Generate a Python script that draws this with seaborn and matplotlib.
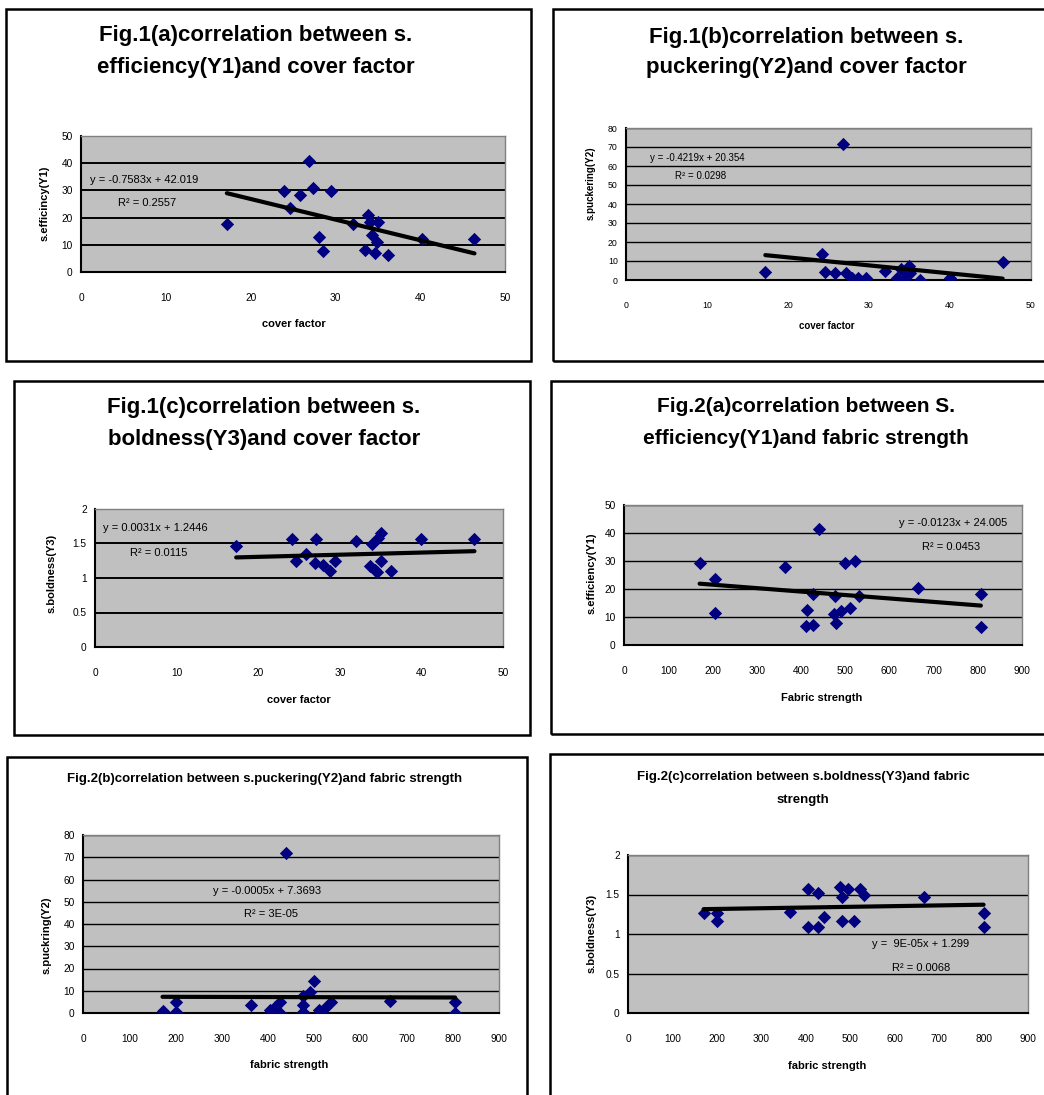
import matplotlib
matplotlib.use('Agg')
import matplotlib.pyplot as plt
import seaborn as sns
from matplotlib.patches import Rectangle
from matplotlib.ticker import FuncFormatter, MultipleLocator

W, H = 1044, 1095

# Fig.1 - cover factor vs Y1 / Y2 / Y3
cover_1a = [17.2, 23.9, 24.6, 25.8, 26.9, 27.4, 28.1, 28.5, 29.5, 32.1,
            33.5, 33.8, 34.1, 34.3, 34.7, 34.9, 35.0, 36.2, 40.2, 46.4]
effic_1a = [17.8, 29.9, 23.7, 28.3, 40.7, 30.7, 12.7, 7.7, 29.9, 17.6,
            8.0, 20.9, 18.4, 13.5, 7.0, 11.1, 18.4, 6.1, 12.3, 12.3]

cover_1b = [17.2, 24.2, 24.6, 25.8, 26.8, 27.1, 27.9, 28.6, 29.6, 32.0,
            33.4, 34.0, 34.3, 34.6, 34.9, 35.1, 36.3, 40.0, 46.5]
pucker_1b = [4.0, 13.7, 4.0, 3.5, 71.7, 3.5, 0.9, 0.9, 0.9, 4.9,
             0.9, 5.6, 0.0, 3.5, 7.4, 3.5, 0.0, 0.9, 9.7]

cover_1c = [17.3, 24.1, 24.6, 25.8, 27.1, 26.9, 27.9, 28.8, 29.4, 32.0,
            33.7, 34.0, 34.3, 34.5, 34.7, 35.0, 35.1, 36.3, 40.0, 46.5]
bold_1c = [1.46, 1.56, 1.25, 1.35, 1.56, 1.22, 1.19, 1.10, 1.25, 1.53,
           1.17, 1.49, 1.12, 1.09, 1.58, 1.65, 1.25, 1.10, 1.56, 1.56]

# Fig.2 - fabric strength vs Y1 / Y2 / Y3
fabric_2a = [171, 206, 206, 365, 414, 412, 427, 427, 440, 474,
             478, 480, 491, 500, 512, 523, 532, 664, 807, 807]
effic_2a = [29.4, 23.5, 11.5, 27.7, 12.5, 6.8, 18.1, 7.0, 41.3, 11.1,
            17.5, 8.0, 12.3, 29.4, 13.1, 30.0, 17.5, 20.5, 18.2, 6.5]

fabric_2b = [172, 202, 202, 363, 405, 411, 416, 427, 427, 440, 476,
             477, 477, 491, 499, 511, 524, 536, 664, 805, 805]
pucker_2b = [1.0, 4.8, 0.4, 3.7, 1.2, 0.3, 2.5, 4.8, 0.0, 71.8, 7.8,
             3.7, 0.4, 9.3, 14.5, 1.5, 2.2, 4.8, 5.2, 4.8, 0.0]

fabric_2c = [170, 200, 200, 364, 406, 406, 427, 427, 440, 476,
             481, 481, 496, 508, 521, 532, 665, 800, 800]
bold_2c = [1.26, 1.27, 1.16, 1.28, 1.57, 1.09, 1.52, 1.09, 1.21, 1.60,
           1.47, 1.16, 1.57, 1.16, 1.57, 1.49, 1.47, 1.27, 1.09]

# trendline coefficients as printed on the charts (slope, intercept)
fit_1a = (-0.7583, 42.019)
fit_1b = (-0.4219, 20.354)
fit_1c = (0.0031, 1.2446)
fit_2a = (-0.0123, 24.005)
fit_2b = (-0.0005, 7.3693)
fit_2c = (9e-05, 1.299)

sns.set_style('white')
plt.rcParams['font.family'] = ['Liberation Sans', 'DejaVu Sans']
plt.rcParams['text.color'] = 'black'
plt.rcParams['xtick.color'] = 'black'
plt.rcParams['ytick.color'] = 'black'
plt.rcParams['axes.labelcolor'] = 'black'

fig = plt.figure(figsize=(W / 100, H / 100), dpi=100)

NAVY = '#000080'
PLOT_BG = '#C0C0C0'


def fx(px):
    return px / W


def fy(py):
    return 1 - py / H


def frame(l, t, r, b):
    fig.patches.append(Rectangle((fx(l), fy(b)), fx(r - l), (b - t) / H,
                                 transform=fig.transFigure, fill=False,
                                 lw=1.8, edgecolor='black'))


def panel(area, x, y, fit, xmax, xstep, ymax, ystep, tick_fs=7.3, grid_lw=1.0):
    l, t, r, b = area
    ax = fig.add_axes([fx(l), fy(b), fx(r - l), (b - t) / H])
    ax.set_facecolor(PLOT_BG)
    sns.scatterplot(x=x, y=y, ax=ax, marker='D', color=NAVY, s=46,
                    linewidth=0, zorder=3)
    xs = [min(x), max(x)]
    ys = [fit[0] * v + fit[1] for v in xs]
    sns.lineplot(x=xs, y=ys, ax=ax, color='black', lw=3.0, zorder=4)
    ax.set_xlim(0, xmax)
    ax.set_ylim(0, ymax)
    ax.xaxis.set_major_locator(MultipleLocator(xstep))
    ax.yaxis.set_major_locator(MultipleLocator(ystep))
    ax.yaxis.set_major_formatter(FuncFormatter(lambda v, p: '{:g}'.format(v)))
    ax.yaxis.grid(True, color='black', lw=grid_lw)
    ax.xaxis.grid(False)
    ax.set_axisbelow(True)
    for side in ['top', 'right']:
        ax.spines[side].set_color('#808080')
        ax.spines[side].set_linewidth(1.0)
    for side in ['left', 'bottom']:
        ax.spines[side].set_color('black')
        ax.spines[side].set_linewidth(1.5)
    ax.tick_params(axis='x', direction='out', length=3, width=1, pad=12,
                   labelsize=tick_fs, color='black', labelcolor='black')
    ax.tick_params(axis='y', direction='out', length=3, width=1, pad=3,
                   labelsize=tick_fs, color='black', labelcolor='black')
    ax.set_xlabel('')
    ax.set_ylabel('')
    return ax


def label_text(x, y, s, rot=0, size=8):
    fig.text(fx(x), fy(y), s, ha='center', va='center', rotation=rot,
             fontsize=size, fontweight='bold', color='black')


def note(x, y, s, size=8, ha='left'):
    fig.text(fx(x), fy(y), s, ha=ha, va='center', fontsize=size, color='black')


def title(x, ys, lines, size):
    for yy, s in zip(ys, lines):
        fig.text(fx(x), fy(yy), s, ha='center', va='center',
                 fontsize=size, fontweight='bold', color='black')


# outer chart boxes
frame(6, 9, 531, 361)
frame(553, 9, 1052, 361)
frame(14, 381, 530, 735)
frame(551, 381, 1052, 734)
frame(7, 757, 527, 1102)
frame(550, 754, 1052, 1102)

# Fig.1(a)
panel((81, 136, 505, 272), cover_1a, effic_1a, fit_1a, 50, 10, 50, 10, grid_lw=1.4)
title(256, [35, 67], ['Fig.1(a)correlation between s.',
                      'efficiency(Y1)and cover factor'], 16)
label_text(294, 324, 'cover factor')
label_text(45, 203, 's.efficincy(Y1)', rot=90)
note(90, 180, 'y = -0.7583x + 42.019')
note(118, 203, 'R² = 0.2557')

# Fig.1(b)
panel((626, 128, 1031, 280), cover_1b, pucker_1b, fit_1b, 50, 10, 80, 10, tick_fs=6.3)
title(806, [38, 68], ['Fig.1(b)correlation between s.',
                      'puckering(Y2)and cover factor'], 16)
label_text(827, 326, 'cover factor', size=7)
label_text(591, 183, 's.puckering(Y2)', rot=90, size=7)
note(650, 158, 'y = -0.4219x + 20.354', size=7)
note(675, 176, 'R² = 0.0298', size=7)

# Fig.1(c)
panel((95, 509, 503, 647), cover_1c, bold_1c, fit_1c, 50, 10, 2, 0.5, grid_lw=1.4)
title(264, [408, 440], ['Fig.1(c)correlation between s.',
                        'boldness(Y3)and cover factor'], 16)
label_text(299, 700, 'cover factor')
label_text(52, 573, 's.boldness(Y3)', rot=90)
note(103, 528, 'y = 0.0031x + 1.2446')
note(130, 553, 'R² = 0.0115')

# Fig.2(a)
panel((624, 505, 1022, 645), fabric_2a, effic_2a, fit_2a, 900, 100, 50, 10)
title(806, [407, 438], ['Fig.2(a)correlation between S.',
                        'efficiency(Y1)and fabric strength'], 15)
label_text(822, 698, 'Fabric strength')
label_text(592, 573, 's.efficiency(Y1)', rot=90)
note(1007, 523, 'y = -0.0123x + 24.005', ha='right')
note(922, 547, 'R² = 0.0453')

# Fig.2(b)
panel((83, 835, 499, 1013), fabric_2b, pucker_2b, fit_2b, 900, 100, 80, 10)
title(265, [779], ['Fig.2(b)correlation between s.puckering(Y2)and fabric strength'], 9.5)
label_text(289, 1065, 'fabric strength')
label_text(47, 935, 's.puckring(Y2)', rot=90)
note(213, 891, 'y = -0.0005x + 7.3693')
note(244, 914, 'R² = 3E-05')

# Fig.2(c)
panel((628, 855, 1028, 1013), fabric_2c, bold_2c, fit_2c, 900, 100, 2, 0.5)
title(803, [777, 800], ['Fig.2(c)correlation between s.boldness(Y3)and fabric',
                        'strength'], 9.5)
label_text(827, 1066, 'fabric strength')
label_text(592, 933, 's.boldness(Y3)', rot=90)
note(872, 944, 'y =  9E-05x + 1.299')
note(892, 968, 'R² = 0.0068')

fig.savefig('out.png', dpi=100)
